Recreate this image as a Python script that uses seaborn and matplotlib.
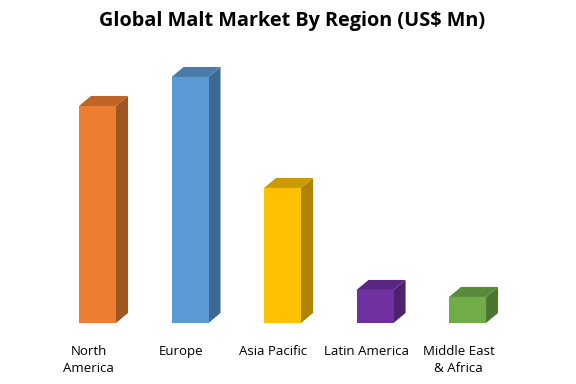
"""
Global malt market by region - pseudo 3D column chart
"""
import matplotlib
matplotlib.use('Agg')
import matplotlib.pyplot as plt
import matplotlib.transforms as mtransforms
from matplotlib.patches import Polygon
from matplotlib.colors import to_rgb
import pandas as pd
import seaborn as sns

regions = ['North\nAmerica', 'Europe', 'Asia Pacific', 'Latin America', 'Middle East\n& Africa']
market_size = [217, 246, 135, 33, 26]
bar_colors = ['#ED7D31', '#5B9BD5', '#FFC000', '#7030A0', '#70AD47']

df = pd.DataFrame({'Region': regions, 'Value': market_size})

sns.set_style('white')
plt.rcParams['font.family'] = ['Open Sans', 'DejaVu Sans']

fig = plt.figure(figsize=(5.76, 3.84), dpi=100)
ax = fig.add_axes([0.089, 0.159, 0.803, 0.677])

bar_w = 0.4
sns.barplot(data=df, x='Region', y='Value', hue='Region', palette=bar_colors,
            width=bar_w, legend=False, saturation=1, ax=ax, zorder=2,
            edgecolor='none', linewidth=0)

# fake depth: side and top faces
dx, dy = 0.13, 10
for i, (h, c) in enumerate(zip(market_size, bar_colors)):
    base = to_rgb(c)
    side = tuple(v * 0.68 for v in base)
    top = tuple(v * 0.8 for v in base)
    l, r = i - bar_w / 2, i + bar_w / 2
    ax.add_patch(Polygon([(r, 0), (r + dx, dy), (r + dx, h + dy), (r, h)],
                         closed=True, facecolor=side, edgecolor='none', zorder=1))
    ax.add_patch(Polygon([(l, h), (r, h), (r + dx, h + dy), (l + dx, h + dy)],
                         closed=True, facecolor=top, edgecolor='none', zorder=1))

ax.set_xlim(-0.5, 4.5)
ax.set_ylim(0, 260)
ax.set_yticks([])
ax.set_xlabel('')
ax.set_ylabel('')
sns.despine(ax=ax, left=True, bottom=True)
ax.tick_params(axis='x', length=0, pad=16, labelsize=9.5, labelcolor='black')

shift = mtransforms.ScaledTranslation(-0.09, 0, fig.dpi_scale_trans)
for lab in ax.get_xticklabels():
    lab.set_linespacing(1.35)
    lab.set_transform(lab.get_transform() + shift)

fig.text(0.507, 0.945, 'Global Malt Market By Region (US$ Mn)', ha='center', va='center',
         fontsize=14.3, fontweight='bold', color='black')

fig.savefig('out.png', dpi=100)
